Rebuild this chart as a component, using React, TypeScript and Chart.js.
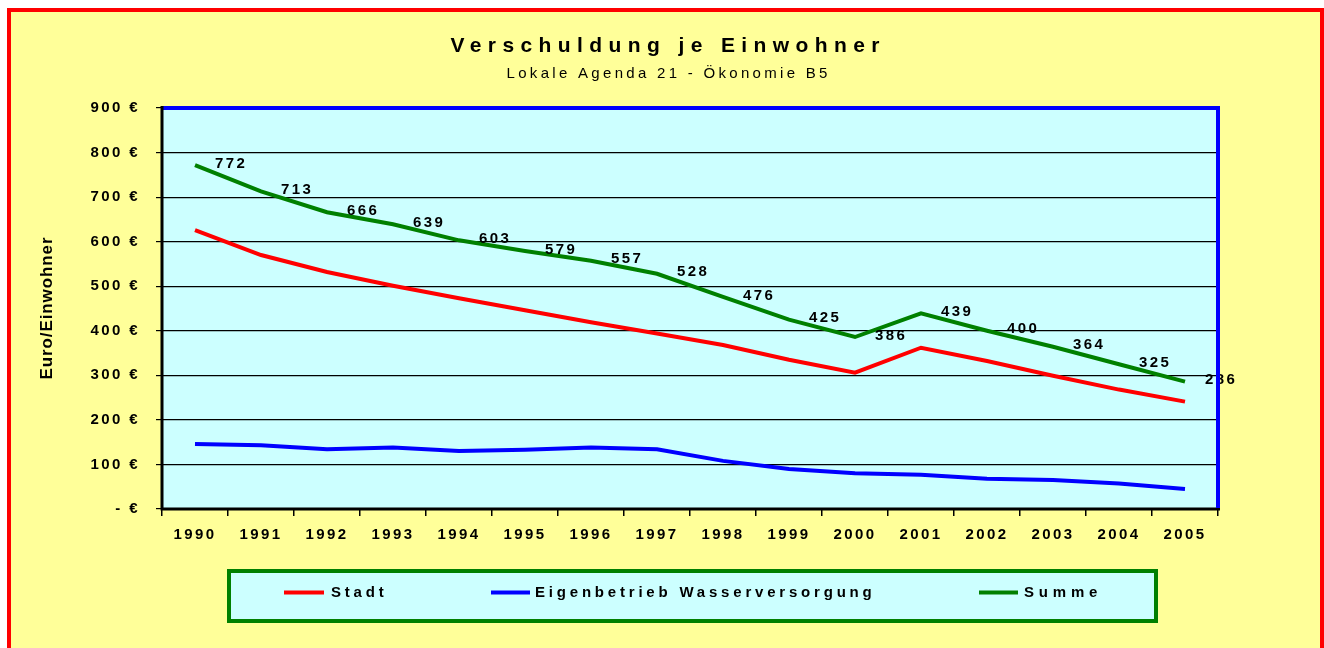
import React, { useEffect, useRef } from "react";
import { Chart, registerables } from "chart.js";

Chart.register(...registerables);

const years = ["1990", "1991", "1992", "1993", "1994", "1995", "1996", "1997", "1998", "1999", "2000", "2001", "2002", "2003", "2004", "2005"];
const stadt = [626, 570, 532, 501, 473, 446, 419, 394, 368, 335, 306, 362, 332, 299, 268, 241];
const wasser = [146, 143, 134, 138, 130, 133, 138, 134, 108, 90, 80, 77, 68, 65, 57, 45];
const summe = [772, 713, 666, 639, 603, 579, 557, 528, 476, 425, 386, 439, 400, 364, 325, 286];
const seriesNames = ["Stadt", "Eigenbetrieb Wasserversorgung", "Summe"];
const seriesColors = ["#FF0000", "#0000FF", "#008000"];
const titleText = "Verschuldung je Einwohner";
const subtitleText = "Lokale Agenda 21 - Ökonomie B5";
const yTitle = "Euro/Einwohner";

const FONT = "'Liberation Sans', Arial, Helvetica, sans-serif";
const LS = 2.4;

function spacedText(
  ctx: CanvasRenderingContext2D,
  text: string,
  x: number,
  y: number,
  align: "left" | "center" | "right",
  spacing: number
) {
  (ctx as any).letterSpacing = "0px";
  const w0 = ctx.measureText(text).width;
  const vis = w0 + spacing * (Array.from(text).length - 1);
  let x0 = x;
  if (align === "center") x0 = x - vis / 2;
  else if (align === "right") x0 = x - vis;
  (ctx as any).letterSpacing = spacing + "px";
  ctx.textAlign = "left";
  ctx.fillText(text, x0, y);
  (ctx as any).letterSpacing = "0px";
}

const decorPlugin = {
  id: "decor",
  beforeDraw(chart: any) {
    const ctx: CanvasRenderingContext2D = chart.ctx;
    const W = chart.width;
    const H = chart.height;
    ctx.save();
    ctx.fillStyle = "#FFFFFF";
    ctx.fillRect(0, 0, W, H);
    ctx.fillStyle = "#FFFF99";
    ctx.fillRect(11, 12, W - 4 - 11, H - 12);
    ctx.fillStyle = "#FF0000";
    ctx.fillRect(7, 8, W - 7, 4);
    ctx.fillRect(7, 8, 4, H - 8);
    ctx.fillRect(W - 4, 8, 4, H - 8);
    const a = chart.chartArea;
    ctx.fillStyle = "#CCFFFF";
    ctx.fillRect(a.left, a.top, a.right - a.left, a.bottom - a.top);
    ctx.restore();
    (ctx as any).letterSpacing = LS + "px";
  },
  beforeDatasetsDraw(chart: any) {
    const ctx: CanvasRenderingContext2D = chart.ctx;
    const a = chart.chartArea;
    ctx.save();
    (ctx as any).letterSpacing = "0px";
    ctx.strokeStyle = "#0000FF";
    ctx.lineWidth = 4;
    ctx.beginPath();
    ctx.moveTo(a.left, a.top);
    ctx.lineTo(a.right, a.top);
    ctx.lineTo(a.right, a.bottom);
    ctx.stroke();
    ctx.strokeStyle = "#000000";
    ctx.lineWidth = 3;
    ctx.beginPath();
    ctx.moveTo(a.left, a.top - 2);
    ctx.lineTo(a.left, a.bottom);
    ctx.lineTo(a.right + 2, a.bottom);
    ctx.stroke();
    ctx.restore();
  },
  afterDraw(chart: any) {
    const ctx: CanvasRenderingContext2D = chart.ctx;
    const a = chart.chartArea;
    ctx.save();
    ctx.fillStyle = "#000000";
    ctx.textBaseline = "alphabetic";
    // title
    ctx.font = `bold 21px ${FONT}`;
    spacedText(ctx, titleText, 665, 51.5, "center", 6.4);
    ctx.font = `15px ${FONT}`;
    spacedText(ctx, subtitleText, 667, 77.5, "center", 3.3);
    // y axis title
    ctx.save();
    ctx.translate(47, (a.top + a.bottom) / 2);
    ctx.rotate(-Math.PI / 2);
    ctx.font = `bold 17px ${FONT}`;
    ctx.textBaseline = "middle";
    spacedText(ctx, yTitle, 0, 0, "center", 0.9);
    ctx.restore();
    // data labels for Summe
    const meta = chart.getDatasetMeta(2);
    ctx.font = `bold 15px ${FONT}`;
    ctx.textBaseline = "middle";
    meta.data.forEach((pt: any, i: number) => {
      spacedText(ctx, String(summe[i]), pt.x + 20, pt.y - 1.5, "left", LS);
    });
    // right plot border drawn over the labels
    ctx.strokeStyle = "#0000FF";
    ctx.lineWidth = 4;
    ctx.beginPath();
    ctx.moveTo(a.right, a.top);
    ctx.lineTo(a.right, a.bottom - 1);
    ctx.stroke();
    // legend
    const lx = 227, ly = 569, lw = 931, lh = 54;
    ctx.fillStyle = "#CCFFFF";
    ctx.fillRect(lx, ly, lw, lh);
    ctx.strokeStyle = "#008000";
    ctx.lineWidth = 4;
    ctx.strokeRect(lx + 2, ly + 2, lw - 4, lh - 4);
    const items = [
      { x1: 284, x2: 324, tx: 331 },
      { x1: 491, x2: 530, tx: 535 },
      { x1: 979, x2: 1018, tx: 1024 },
    ];
    const cy = 592.5;
    items.forEach((it, i) => {
      ctx.strokeStyle = seriesColors[i];
      ctx.lineWidth = 4;
      ctx.beginPath();
      ctx.moveTo(it.x1, cy);
      ctx.lineTo(it.x2, cy);
      ctx.stroke();
      ctx.fillStyle = "#000000";
      ctx.font = `bold 15px ${FONT}`;
      ctx.textBaseline = "middle";
      spacedText(ctx, seriesNames[i], it.tx, cy, "left", i === 2 ? 4.8 : 3.8);
    });
    ctx.restore();
  },
};

export default function App() {
  const ref = useRef<HTMLCanvasElement | null>(null);
  useEffect(() => {
    if (!ref.current) return;
    const tickFont = { family: FONT, size: 15, weight: "bold" as const };
    const chart = new Chart(ref.current, {
      type: "line",
      data: {
        labels: years,
        datasets: [
          { label: seriesNames[0], data: stadt, borderColor: seriesColors[0], backgroundColor: seriesColors[0], borderWidth: 4, pointRadius: 0, tension: 0 },
          { label: seriesNames[1], data: wasser, borderColor: seriesColors[1], backgroundColor: seriesColors[1], borderWidth: 4, pointRadius: 0, tension: 0 },
          { label: seriesNames[2], data: summe, borderColor: seriesColors[2], backgroundColor: seriesColors[2], borderWidth: 4, pointRadius: 0, tension: 0 },
        ],
      },
      options: {
        responsive: false,
        animation: false,
        layout: { padding: { top: 108, right: 106, left: 0, bottom: 99 } },
        plugins: {
          legend: { display: false },
          title: { display: false },
          tooltip: { enabled: false },
        },
        scales: {
          x: {
            type: "category",
            offset: true,
            grid: { offset: true, drawOnChartArea: false, drawTicks: true, tickLength: 7, color: "#000000", lineWidth: 1.5 },
            border: { display: false },
            ticks: { font: tickFont, color: "#000000", maxRotation: 0, autoSkip: false, padding: 10 },
            afterFit: (s: any) => { s.height = 40; },
          },
          y: {
            min: 0,
            max: 900,
            grid: { color: "#000000", lineWidth: 1.2, tickLength: 6, drawTicks: true },
            border: { display: false },
            ticks: {
              stepSize: 100,
              font: tickFont,
              color: "#000000",
              padding: 16,
              callback: (v: any) => (Number(v) === 0 ? "- €" : `${v} €`),
            },
            afterFit: (s: any) => { s.width = 162; },
          },
        },
      },
      plugins: [decorPlugin],
    });
    return () => chart.destroy();
  }, []);
  return (
    <div style={{ position: "fixed", left: 0, top: 0, width: 1324, height: 648, background: "#fff" }}>
      <canvas ref={ref} width={1324} height={648} style={{ display: "block", width: 1324, height: 648 }} />
    </div>
  );
}
